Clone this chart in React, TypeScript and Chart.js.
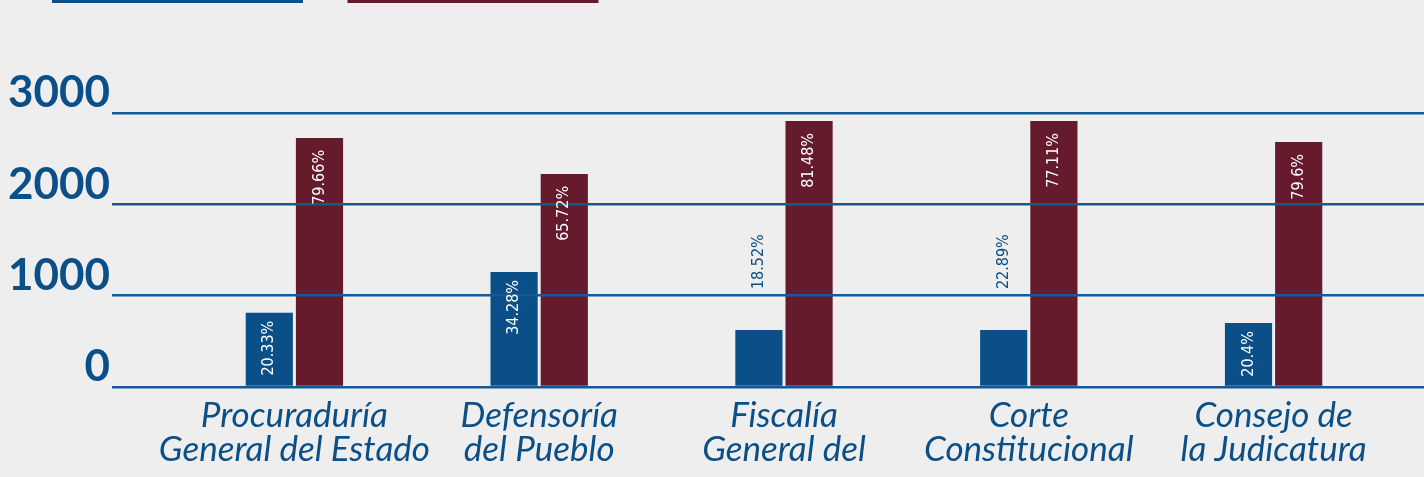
import React, { useEffect, useRef } from "react";
import { Chart, registerables } from "chart.js";

Chart.register(...registerables);

const categories: string[][] = [
  ["Procuraduría", "General del Estado"],
  ["Defensoría", "del Pueblo"],
  ["Fiscalía", "General del"],
  ["Corte", "Constitucional"],
  ["Consejo de", "la Judicatura"],
];
const blueValues = [814, 1260, 624, 624, 701];
const redValues = [2727, 2333, 2913, 2913, 2683];
const bluePercents = ["20.33%", "34.28%", "18.52%", "22.89%", "20.4%"];
const redPercents = ["79.66%", "65.72%", "81.48%", "77.11%", "79.6%"];
const yTicks = [0, 1000, 2000, 3000];

const BLUE = "#0a4f88";
const RED = "#661b2d";
const GRID = "#145a96";
const BG = "#eeeeee";
const SHIFT = 61;
const LABEL_FONT = "'DejaVu Sans Condensed', 'Liberation Sans Narrow', 'Roboto', sans-serif";

const percentLabels = [bluePercents, redPercents];

const barLabelPlugin = {
  id: "barLabels",
  afterDraw(chart: any) {
    const ctx = chart.ctx;
    ctx.save();
    ctx.font = `16px ${LABEL_FONT}`;
    ctx.textBaseline = "middle";
    chart.data.datasets.forEach((_ds: any, di: number) => {
      const meta = chart.getDatasetMeta(di);
      meta.data.forEach((bar: any, i: number) => {
        const text = percentLabels[di][i];
        const w = ctx.measureText(text).width;
        const h = bar.base - bar.y;
        const pad = di === 0 ? 8 : 12;
        ctx.save();
        if (w + 14 <= h) {
          ctx.translate(bar.x, bar.y + pad);
          ctx.rotate(-Math.PI / 2);
          ctx.textAlign = "right";
          ctx.fillStyle = "#ffffff";
          ctx.fillText(text, 0, 0);
        } else {
          ctx.translate(bar.x, bar.y - 41);
          ctx.rotate(-Math.PI / 2);
          ctx.textAlign = "left";
          ctx.fillStyle = BLUE;
          ctx.fillText(text, 0, 0);
        }
        ctx.restore();
      });
    });
    ctx.restore();
  },
};

export default function App() {
  const canvasRef = useRef<HTMLCanvasElement | null>(null);

  useEffect(() => {
    document.body.style.margin = "0";
    const canvas = canvasRef.current;
    if (!canvas) return;
    const chart = new Chart(canvas, {
      type: "bar",
      data: {
        labels: categories,
        datasets: [
          {
            label: "Serie 1",
            data: blueValues,
            backgroundColor: BLUE,
            barPercentage: 0.94,
            categoryPercentage: 0.41,
          },
          {
            label: "Serie 2",
            data: redValues,
            backgroundColor: RED,
            barPercentage: 0.94,
            categoryPercentage: 0.41,
          },
        ],
      },
      options: {
        animation: false,
        responsive: true,
        maintainAspectRatio: false,
        layout: { padding: { left: 8, right: 0, top: 0, bottom: 6 } },
        plugins: {
          legend: {
            display: true,
            position: "top",
            align: "start",
            onClick: () => {},
            labels: {
              boxWidth: 251,
              boxHeight: 20,
              padding: 44,
              font: { size: 1 },
              generateLabels: (c: any) =>
                c.data.datasets.map((ds: any, i: number) => ({
                  text: "",
                  fillStyle: ds.backgroundColor,
                  strokeStyle: ds.backgroundColor,
                  lineWidth: 0,
                  hidden: false,
                  datasetIndex: i,
                })),
            },
          },
          title: {
            display: true,
            text: "",
            weight: 500,
            font: { size: 10, lineHeight: 1 },
            padding: { top: 90, bottom: 0 },
          },
          tooltip: { enabled: false },
        },
        scales: {
          x: {
            grid: { display: false },
            border: { display: false },
            ticks: {
              autoSkip: false,
              maxRotation: 0,
              minRotation: 0,
              padding: 4,
              color: BLUE,
              font: { family: "Lato", style: "italic", size: 35, lineHeight: 0.97 },
            },
          },
          y: {
            position: "left",
            min: 0,
            max: 3000,
            afterBuildTicks: (scale: any) => {
              scale.ticks = yTicks.map((v) => ({ value: v }));
            },
            afterFit: (scale: any) => {
              scale.width = 164;
            },
            grid: {
              color: GRID,
              lineWidth: 2.5,
              drawTicks: true,
              tickLength: 60,
              z: 1,
            },
            border: { display: false },
            ticks: {
              padding: 2,
              labelOffset: -20,
              color: BLUE,
              font: { family: "Lato", weight: "bold", size: 44 },
              callback: (v: any) => String(v),
            },
          },
          y2: {
            position: "right",
            min: 0,
            max: 3000,
            afterBuildTicks: (scale: any) => {
              scale.ticks = yTicks.map((v) => ({ value: v }));
            },
            grid: {
              color: GRID,
              lineWidth: 2.5,
              drawOnChartArea: false,
              drawTicks: true,
              tickLength: 28,
            },
            border: { display: false },
            ticks: { display: false },
          },
        },
      },
      plugins: [barLabelPlugin],
    });
    return () => chart.destroy();
  }, []);

  return (
    <div
      style={{
        position: "fixed",
        left: 0,
        top: 0,
        width: 1424,
        height: 477,
        overflow: "hidden",
        background: BG,
      }}
    >
      <div
        style={{
          position: "absolute",
          left: 0,
          top: -SHIFT,
          width: 1424,
          height: 477 + SHIFT,
        }}
      >
        <canvas ref={canvasRef} />
      </div>
    </div>
  );
}
